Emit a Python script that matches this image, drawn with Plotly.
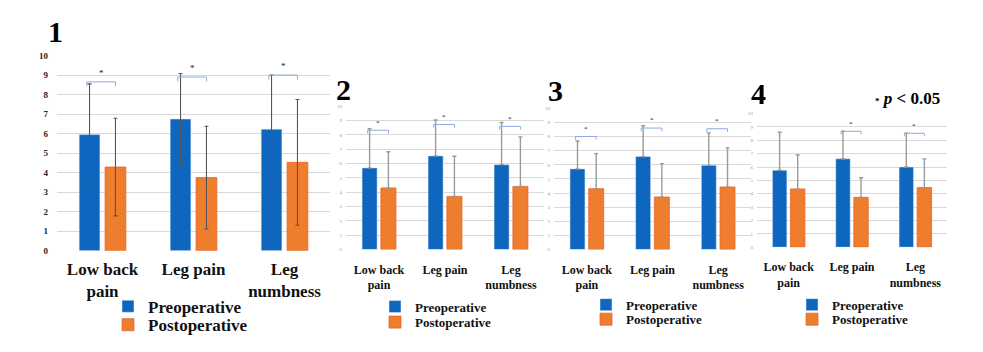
import plotly.graph_objects as go

categories = ["Low back<br>pain", "Leg pain", "Leg<br>numbness"]
series_names = ["Preoperative", "Postoperative"]

# mean values per panel (pre, post)
pre_means = [
    [5.95, 6.75, 6.23],
    [5.70, 6.54, 5.93],
    [5.71, 6.58, 5.96],
    [5.76, 6.61, 6.00],
]
post_means = [
    [4.29, 3.75, 4.53],
    [4.30, 3.71, 4.41],
    [4.31, 3.72, 4.43],
    [4.36, 3.73, 4.46],
]
# standard deviations (upper whiskers)
pre_sd = [
    [2.60, 2.33, 2.77],
    [2.74, 2.51, 2.94],
    [1.97, 2.18, 2.30],
    [2.84, 2.06, 2.52],
]
post_sd = [
    [2.50, 2.63, 3.22],
    [2.53, 2.81, 3.46],
    [2.48, 2.36, 2.77],
    [2.54, 1.47, 2.15],
]
# significance bracket heights (None = no bracket)
bracket_heights = [
    [8.65, 8.90, 9.00],
    [8.33, 8.73, 8.60],
    [8.00, 8.60, 8.55],
    [None, 8.67, 8.52],
]
panel_labels = ["1", "2", "3", "4"]
y_ticks = list(range(0, 11))

BLUE = "#0F66BF"
ORANGE = "#EE7D2E"
SERIF = "Liberation Serif"
W, H = 983, 352

BARGAP = 0.43
GROUPGAP = 0.2
slot = (1 - BARGAP) / 2

# layout geometry (pixels): x0, x1, y_of_0, y_of_10
geo = [
    (57, 330, 253, 52),
    (346, 544, 251.7, 104.3),
    (554, 751, 251.7, 106.3),
    (757, 947, 249.3, 111.7),
]
# legend item positions (left x, top y of pre item, top y of post item)
legend_pos = [(108, 292, 311), (375, 295, 311), (586, 293, 308), (792, 293, 308)]

fig = go.Figure()
xs = [0, 1, 2]
for p in range(4):
    ax = "" if p == 0 else str(p + 1)
    xref, yref = "x" + ax, "y" + ax
    leg_pre = "legend" if p == 0 else "legend" + str(2 * p + 1)
    leg_post = "legend" + str(2 * p + 2)
    big = p == 0
    if big:
        err_pre = dict(type="data", array=pre_sd[p], symmetric=True, color="#555555", thickness=1.1, width=2)
        err_post = dict(type="data", array=post_sd[p], symmetric=True, color="#555555", thickness=1.1, width=2)
    else:
        err_pre = dict(type="data", array=pre_sd[p], arrayminus=[0, 0, 0], symmetric=False, color="#9a9a9a", thickness=1.4, width=2)
        err_post = dict(type="data", array=post_sd[p], arrayminus=[0, 0, 0], symmetric=False, color="#9a9a9a", thickness=1.4, width=2)
    fig.add_trace(go.Bar(x=xs, y=pre_means[p], name=series_names[0], marker_color=BLUE,
                         error_y=err_pre, xaxis=xref, yaxis=yref, legend=leg_pre))
    fig.add_trace(go.Bar(x=xs, y=post_means[p], name=series_names[1], marker_color=ORANGE,
                         marker_line=dict(color="#E8642A", width=0.8),
                         error_y=err_post, xaxis=xref, yaxis=yref, legend=leg_post))
    # brackets
    for i, h in enumerate(bracket_heights[p]):
        if h is None:
            continue
        xl = i - slot / 2 - 0.03
        xr = i + slot / 2
        drop = 0.22
        fig.add_trace(go.Scatter(x=[xl, xl, xr, xr], y=[h - drop, h, h, h - drop], mode="lines",
                                 line=dict(color="#8FAADC", width=1), showlegend=False,
                                 hoverinfo="skip", xaxis=xref, yaxis=yref))
        fig.add_annotation(x=(xl + xr) / 2, y=h + 0.12, xref=xref, yref=yref, text="*",
                           showarrow=False, yanchor="bottom",
                           font=dict(family=SERIF, size=9 if big else 7, color="#222222"))

    x0, x1, y0, y10 = geo[p]
    lx, ty_pre, ty_post = legend_pos[p]
    legfont = dict(family=SERIF, size=17 if big else 13, color="#111111", weight="bold")
    fig.update_layout({
        "xaxis" + ax: dict(domain=[x0 / W, x1 / W], range=[-0.5, 2.5], tickvals=xs, ticktext=categories,
                           showgrid=False, zeroline=False, showline=False, ticks="",
                           ticklabelstandoff=6 if big else 11,
                           tickfont=dict(family=SERIF, size=17 if big else 12, color="#111111", weight="bold"),
                           anchor="y" + ax),
        "yaxis" + ax: dict(domain=[(H - y0) / H, (H - y10) / H], range=[0, 10], tickvals=y_ticks,
                           showgrid=True, gridcolor="#D9D9D9", gridwidth=1, zeroline=False, showline=False,
                           ticks="", ticklabelstandoff=8 if big else 3,
                           tickfont=dict(family=SERIF, size=9 if big else 5,
                                         color="#262626" if big else "#9a9a9a",
                                         weight="bold" if big else "normal"),
                           anchor="x" + ax),
        leg_pre: dict(x=lx / W, y=(H - ty_pre) / H, xanchor="left", yanchor="top",
                      font=legfont, bgcolor="rgba(0,0,0,0)"),
        leg_post: dict(x=lx / W, y=(H - ty_post) / H, xanchor="left", yanchor="top",
                       font=legfont, bgcolor="rgba(0,0,0,0)"),
    })

# panel numbers
title_pos = [(55, 27), (343, 87), (555, 88), (758, 91)]
for p in range(4):
    fig.add_annotation(x=title_pos[p][0] / W, y=(H - title_pos[p][1]) / H, xref="paper", yref="paper",
                       text=panel_labels[p], showarrow=False, xanchor="center", yanchor="middle",
                       font=dict(family=SERIF, size=30, color="#000000", weight="bold"))

fig.add_annotation(x=907 / W, y=(H - 96) / H, xref="paper", yref="paper",
                   text="<span style='font-size:9px'>*</span> <i>p</i> &lt; 0.05", showarrow=False,
                   xanchor="center", yanchor="middle",
                   font=dict(family=SERIF, size=17, color="#000000", weight="bold"))

fig.update_layout(width=W, height=H, margin=dict(l=0, r=0, t=0, b=0),
                  paper_bgcolor="white", plot_bgcolor="white",
                  barmode="group", bargap=BARGAP, bargroupgap=GROUPGAP, showlegend=True)

fig.write_html("out.html")
